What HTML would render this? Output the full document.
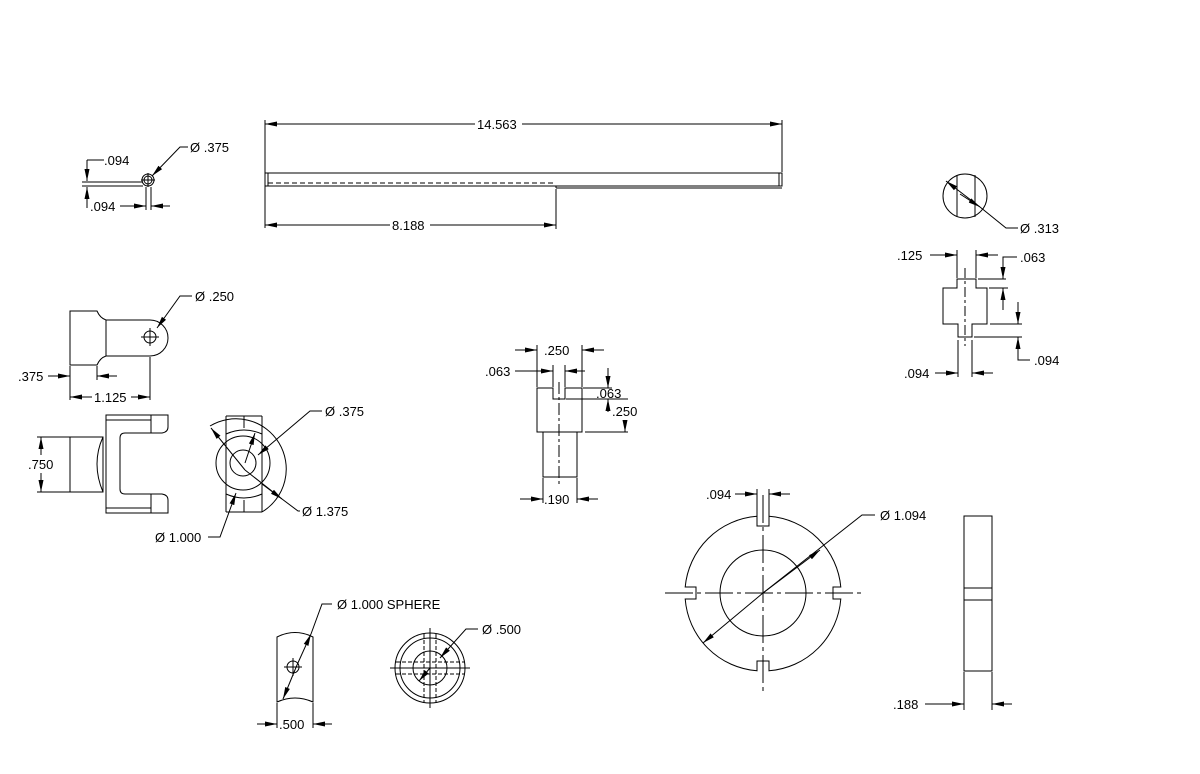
<!DOCTYPE html>
<html><head><meta charset="utf-8"><style>
html,body{margin:0;padding:0;background:#fff;}
svg{display:block;}
text{font-family:"Liberation Sans",Arial,sans-serif;font-size:13px;fill:#000;}
</style></head><body>
<svg width="1200" height="774" viewBox="0 0 1200 774" xmlns="http://www.w3.org/2000/svg">
<defs>
<marker id="a" markerWidth="14" markerHeight="10" refX="12" refY="5" orient="auto-start-reverse" markerUnits="userSpaceOnUse">
<path d="M0,2.5 L12,5 L0,7.5 Z" fill="#000"/>
</marker>
</defs>
<g stroke="#000" stroke-width="1" fill="none">
<!-- Long shaft -->
<rect x="265" y="173" width="517" height="13"/>
<line x1="268" y1="173" x2="268" y2="186"/>
<line x1="779" y1="173" x2="779" y2="186"/>
<line x1="556" y1="186" x2="556" y2="188"/>
<line x1="556" y1="188" x2="782" y2="188"/>
<line x1="268" y1="183" x2="556" y2="183" stroke-dasharray="5,3"/>
<line x1="265" y1="120" x2="265" y2="228"/>
<line x1="782" y1="120" x2="782" y2="172"/>
<line x1="556" y1="189" x2="556" y2="229"/>
<line x1="265" y1="124" x2="475" y2="124" marker-start="url(#a)"/>
<line x1="522" y1="124" x2="782" y2="124" marker-end="url(#a)"/>
<line x1="265" y1="225" x2="390" y2="225" marker-start="url(#a)"/>
<line x1="430" y1="225" x2="556" y2="225" marker-end="url(#a)"/>

<!-- small top-left part -->
<line x1="82" y1="182" x2="143" y2="182"/>
<line x1="82" y1="186" x2="143" y2="186"/>
<circle cx="148" cy="180" r="6"/>
<circle cx="148" cy="180" r="4"/>
<line x1="141" y1="180" x2="155" y2="180"/>
<line x1="148" y1="173" x2="148" y2="187"/>
<line x1="146" y1="187" x2="146" y2="210"/>
<line x1="151" y1="187" x2="151" y2="210"/>
<line x1="104" y1="160" x2="87" y2="160"/>
<line x1="87" y1="160" x2="87" y2="181" marker-end="url(#a)"/>
<line x1="87" y1="208" x2="87" y2="187" marker-end="url(#a)"/>
<line x1="120" y1="206" x2="146" y2="206" marker-end="url(#a)"/>
<line x1="170" y1="206" x2="151" y2="206" marker-end="url(#a)"/>
<polyline points="188,147 180,147 152,176" marker-end="url(#a)"/>

<!-- Yoke top view -->
<path d="M70,311 L97,311 Q100,318 106,320 L150,320 A18,18 0 0 1 150,356 L106,356 Q100,358 97,365 L70,365 Z"/>
<line x1="106" y1="320" x2="106" y2="356"/>
<circle cx="150" cy="337" r="6"/>
<line x1="141" y1="337" x2="159" y2="337"/>
<line x1="150" y1="328" x2="150" y2="346"/>
<polyline points="192,296 180,296 157,328" marker-end="url(#a)"/>
<line x1="70" y1="366" x2="70" y2="400"/>
<line x1="97" y1="366" x2="97" y2="380"/>
<line x1="150" y1="357" x2="150" y2="400"/>
<line x1="48" y1="376" x2="70" y2="376" marker-end="url(#a)"/>
<line x1="117" y1="376" x2="97" y2="376" marker-end="url(#a)"/>
<line x1="70" y1="397" x2="92" y2="397" marker-start="url(#a)"/>
<line x1="131" y1="397" x2="150" y2="397" marker-end="url(#a)"/>

<!-- Yoke front view -->
<rect x="70" y="437" width="33" height="55"/>
<path d="M103,437 Q97,450 97,464 Q97,478 103,492"/>
<path d="M106,415 L106,513 L168,513 L168,500 Q168,495 162,494 L151,494 L125,494 Q120,494 120,489 L120,438 Q120,433 125,433 L151,433 L162,433 Q168,432 168,427 L168,415 Z"/>
<line x1="106" y1="420" x2="151" y2="420"/>
<line x1="106" y1="508" x2="151" y2="508"/>
<line x1="151" y1="415" x2="151" y2="433"/>
<line x1="151" y1="494" x2="151" y2="513"/>
<line x1="37" y1="437" x2="70" y2="437"/>
<line x1="37" y1="492" x2="70" y2="492"/>
<line x1="41" y1="455" x2="41" y2="437" marker-end="url(#a)"/>
<line x1="41" y1="473" x2="41" y2="492" marker-end="url(#a)"/>

<!-- Yoke end view -->
<path d="M210,426 A48,48 0 1 1 262,512"/>
<circle cx="243" cy="463" r="27"/>
<circle cx="243" cy="463" r="13"/>
<line x1="226" y1="416" x2="226" y2="512"/>
<line x1="262" y1="416" x2="262" y2="512"/>
<line x1="226" y1="416" x2="262" y2="416"/>
<line x1="226" y1="512" x2="262" y2="512"/>
<line x1="244" y1="416" x2="244" y2="428"/>
<line x1="244" y1="500" x2="244" y2="512"/>
<path d="M226,434 Q244,426 262,434"/>
<path d="M226,494 Q244,502 262,494"/>
<line x1="245" y1="470" x2="211" y2="428" marker-end="url(#a)"/>
<polyline points="245,470 282,499 298,511 300,511" />
<line x1="262" y1="484" x2="282" y2="499" marker-end="url(#a)"/>
<polyline points="322,411 310,411 258,455" marker-end="url(#a)"/>
<line x1="245" y1="463" x2="255" y2="433" marker-end="url(#a)"/>
<polyline points="208,537 220,537 236,493" marker-end="url(#a)"/>

<!-- Middle part -->
<path d="M537,388 L553,388 L553,399 L565,399 L565,388 L582,388 L582,432 L537,432 Z"/>
<rect x="543" y="432" width="34" height="45"/>
<line x1="559" y1="382" x2="559" y2="484" stroke-dasharray="12,3,3,3"/>
<line x1="537" y1="345" x2="537" y2="387"/>
<line x1="582" y1="345" x2="582" y2="387"/>
<line x1="553" y1="365" x2="553" y2="387"/>
<line x1="565" y1="365" x2="565" y2="387"/>
<line x1="515" y1="350" x2="537" y2="350" marker-end="url(#a)"/>
<line x1="604" y1="350" x2="582" y2="350" marker-end="url(#a)"/>
<line x1="515" y1="371" x2="553" y2="371" marker-end="url(#a)"/>
<line x1="585" y1="371" x2="565" y2="371" marker-end="url(#a)"/>
<line x1="583" y1="388" x2="612" y2="388"/>
<line x1="566" y1="399" x2="628" y2="399"/>
<line x1="585" y1="432" x2="628" y2="432"/>
<line x1="608" y1="368" x2="608" y2="388" marker-end="url(#a)"/>
<line x1="608" y1="412" x2="608" y2="399" marker-end="url(#a)"/>
<line x1="625" y1="420" x2="625" y2="432" marker-end="url(#a)"/>
<line x1="543" y1="478" x2="543" y2="503"/>
<line x1="577" y1="478" x2="577" y2="503"/>
<line x1="520" y1="499" x2="543" y2="499" marker-end="url(#a)"/>
<line x1="598" y1="499" x2="577" y2="499" marker-end="url(#a)"/>

<!-- Right top circle -->
<circle cx="965" cy="196" r="22"/>
<line x1="957" y1="175" x2="957" y2="217"/>
<line x1="975" y1="175" x2="975" y2="217"/>
<line x1="980" y1="207" x2="946" y2="181" marker-end="url(#a)"/>
<polyline points="980,207 1006,228 1018,228"/>
<line x1="960" y1="194" x2="980" y2="207" marker-end="url(#a)"/>

<!-- Cross part -->
<path d="M943,288 L957,288 L957,279 L976,279 L976,288 L987,288 L987,324 L972,324 L972,337 L958,337 L958,324 L943,324 Z"/>
<line x1="965" y1="268" x2="965" y2="346" stroke-dasharray="10,3,3,3"/>
<line x1="957" y1="250" x2="957" y2="278"/>
<line x1="976" y1="250" x2="976" y2="278"/>
<line x1="930" y1="255" x2="957" y2="255" marker-end="url(#a)"/>
<line x1="998" y1="255" x2="976" y2="255" marker-end="url(#a)"/>
<line x1="978" y1="279" x2="1006" y2="279"/>
<line x1="989" y1="288" x2="1008" y2="288"/>
<polyline points="1017,257 1003,257 1003,279" marker-end="url(#a)"/>
<line x1="1003" y1="310" x2="1003" y2="288" marker-end="url(#a)"/>
<line x1="990" y1="324" x2="1022" y2="324"/>
<line x1="974" y1="337" x2="1022" y2="337"/>
<line x1="1018" y1="302" x2="1018" y2="324" marker-end="url(#a)"/>
<polyline points="1030,360 1018,360 1018,337" marker-end="url(#a)"/>
<line x1="958" y1="340" x2="958" y2="377"/>
<line x1="972" y1="340" x2="972" y2="377"/>
<line x1="935" y1="373" x2="958" y2="373" marker-end="url(#a)"/>
<line x1="993" y1="373" x2="972" y2="373" marker-end="url(#a)"/>

<!-- Ring -->
<path d="M757,516.3 L757,526 L769,526 L769,516.3 A78,78 0 0 1 840.8,587 L833,587 L833,599 L840.8,599 A78,78 0 0 1 769,670.8 L769,661 L757,661 L757,670.8 A78,78 0 0 1 685.2,599 L696,599 L696,587 L685.2,587 A78,78 0 0 1 757,516.3 Z"/>
<circle cx="763" cy="593" r="43"/>
<line x1="665" y1="593" x2="862" y2="593" stroke-dasharray="28,4,4,4"/>
<line x1="763" y1="495" x2="763" y2="692" stroke-dasharray="28,4,4,4"/>
<line x1="763" y1="593" x2="703" y2="643" marker-end="url(#a)"/>
<polyline points="875,515 862,515 763,593"/>
<line x1="763" y1="593" x2="820" y2="550" marker-end="url(#a)"/>
<line x1="757" y1="489" x2="757" y2="516"/>
<line x1="769" y1="489" x2="769" y2="516"/>
<line x1="735" y1="494" x2="757" y2="494" marker-end="url(#a)"/>
<line x1="790" y1="494" x2="769" y2="494" marker-end="url(#a)"/>
<rect x="964" y="516" width="28" height="155"/>
<line x1="964" y1="588" x2="992" y2="588"/>
<line x1="964" y1="600" x2="992" y2="600"/>
<line x1="964" y1="672" x2="964" y2="710"/>
<line x1="992" y1="672" x2="992" y2="710"/>
<line x1="925" y1="704" x2="964" y2="704" marker-end="url(#a)"/>
<line x1="1012" y1="704" x2="992" y2="704" marker-end="url(#a)"/>

<!-- Sphere side -->
<path d="M277,637 Q295,628 313,637 L313,702 Q295,694 277,702 Z"/>
<circle cx="293" cy="667" r="6"/>
<line x1="284" y1="667" x2="302" y2="667"/>
<line x1="293" y1="658" x2="293" y2="676"/>
<line x1="297" y1="665" x2="283" y2="699" marker-end="url(#a)"/>
<polyline points="332,604 322,604 311,634"/>
<line x1="297" y1="665" x2="311" y2="634" marker-end="url(#a)"/>
<line x1="277" y1="703" x2="277" y2="728"/>
<line x1="313" y1="703" x2="313" y2="728"/>
<line x1="257" y1="724" x2="277" y2="724" marker-end="url(#a)"/>
<line x1="332" y1="724" x2="313" y2="724" marker-end="url(#a)"/>

<!-- Sphere circle view -->
<circle cx="430" cy="668" r="35"/>
<circle cx="430" cy="668" r="30"/>
<circle cx="430" cy="668" r="17"/>
<g stroke-dasharray="4,2">
<line x1="424" y1="634" x2="424" y2="702"/>
<line x1="436" y1="634" x2="436" y2="702"/>
<line x1="396" y1="662" x2="464" y2="662"/>
<line x1="396" y1="674" x2="464" y2="674"/>
</g>
<line x1="390" y1="668" x2="470" y2="668"/>
<line x1="430" y1="628" x2="430" y2="708"/>
<line x1="430" y1="668" x2="419" y2="681" marker-end="url(#a)"/>
<polyline points="478,629 466,629 440,658" marker-end="url(#a)"/>
</g>
<g>
<text x="477" y="129">14.563</text>
<text x="392" y="230">8.188</text>
<text x="104" y="165">.094</text>
<text x="90" y="211">.094</text>
<text x="190" y="152">Ø .375</text>
<text x="195" y="301">Ø .250</text>
<text x="18" y="381">.375</text>
<text x="94" y="402">1.125</text>
<text x="28" y="469">.750</text>
<text x="325" y="416">Ø .375</text>
<text x="302" y="516">Ø 1.375</text>
<text x="155" y="542">Ø 1.000</text>
<text x="544" y="355">.250</text>
<text x="485" y="376">.063</text>
<text x="596" y="398">.063</text>
<text x="612" y="416">.250</text>
<text x="544" y="504">.190</text>
<text x="1020" y="233">Ø .313</text>
<text x="897" y="260">.125</text>
<text x="1020" y="262">.063</text>
<text x="1034" y="365">.094</text>
<text x="904" y="378">.094</text>
<text x="706" y="499">.094</text>
<text x="880" y="520">Ø 1.094</text>
<text x="893" y="709">.188</text>
<text x="337" y="609">Ø 1.000 SPHERE</text>
<text x="482" y="634">Ø .500</text>
<text x="279" y="729">.500</text>
</g>
</svg>
</body></html>
